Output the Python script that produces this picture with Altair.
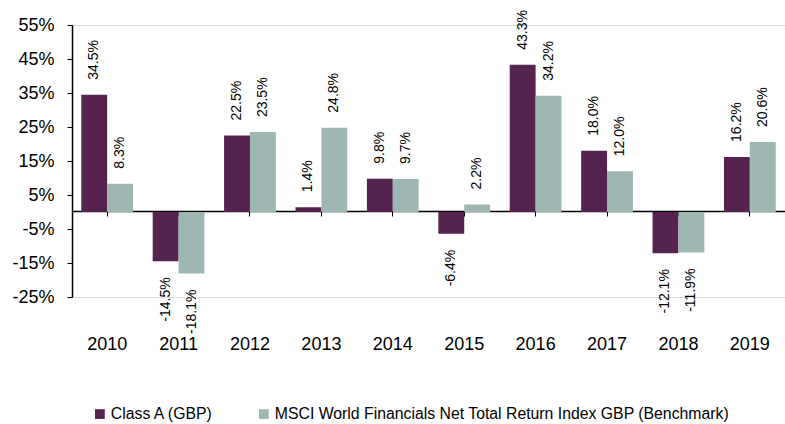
import altair as alt
import pandas as pd

years = ["2010", "2011", "2012", "2013", "2014", "2015", "2016", "2017", "2018", "2019"]
class_a = [34.5, -14.5, 22.5, 1.4, 9.8, -6.4, 43.3, 18.0, -12.1, 16.2]
benchmark = [8.3, -18.1, 23.5, 24.8, 9.7, 2.2, 34.2, 12.0, -11.9, 20.6]
series_names = ["Class A (GBP)", "MSCI World Financials Net Total Return Index GBP (Benchmark)"]
colors = ["#56224F", "#9EB7B3"]
y_ticks = [-25, -15, -5, 5, 15, 25, 35, 45, 55]

rows = []
for i, y in enumerate(years):
    for s, vals in zip(series_names, [class_a, benchmark]):
        rows.append({"year": y, "series": s, "value": vals[i],
                     "label": f"{vals[i]:.1f}%"})
df = pd.DataFrame(rows)

FONT = "Liberation Sans"

x_enc = alt.X("year:N", sort=years,
              scale=alt.Scale(paddingInner=0.275, paddingOuter=0.13),
              axis=alt.Axis(title=None, labelAngle=0, offset=-86, labelPadding=119,
                            tickSize=5, domainColor="#000000", tickColor="#000000",
                            domainWidth=1.5, labelFontSize=18, labelColor="#000000",
                            labelFont=FONT, labelOverlap=False))
xo_enc = alt.XOffset("series:N", sort=series_names, scale=alt.Scale(paddingInner=0, paddingOuter=0))
y_enc = alt.Y("value:Q", scale=alt.Scale(domain=[-25, 55], nice=False, zero=False),
              axis=alt.Axis(title=None, values=y_ticks, labelExpr="datum.value + '%'",
                            grid=False, tickSize=5, labelPadding=13, domainWidth=1.5,
                            domainColor="#000000", tickColor="#000000",
                            labelFontSize=18, labelColor="#000000", labelFont=FONT,
                            labelOverlap=False, labelBound=False, labelFlush=False))

base = alt.Chart(df)

bars = base.mark_bar().encode(
    x=x_enc,
    xOffset=xo_enc,
    y=y_enc,
    y2=alt.datum(0),
    color=alt.Color("series:N", sort=series_names,
                    scale=alt.Scale(domain=series_names, range=colors),
                    legend=alt.Legend(title=None, orient="none", direction="horizontal",
                                      legendX=20, legendY=381, symbolType="square",
                                      symbolSize=95, symbolStrokeWidth=0,
                                      labelFontSize=15.8, labelFont=FONT,
                                      labelColor="#000000", columnPadding=42,
                                      labelOffset=3, labelLimit=0)),
)

pos_labels = base.transform_filter("datum.value >= 0").mark_text(
    angle=270, align="left", baseline="middle", dx=15, fontSize=14, font=FONT, color="#000000"
).encode(x=x_enc, xOffset=xo_enc, y=y_enc, text="label:N")

neg_labels = base.transform_filter("datum.value < 0").mark_text(
    angle=270, align="right", baseline="middle", dx=-16, fontSize=14, font=FONT, color="#000000"
).encode(x=x_enc, xOffset=xo_enc, y=y_enc, text="label:N")

chart = alt.layer(bars, pos_labels, neg_labels).properties(
    width=713, height=272,
    autosize=alt.AutoSizeParams(type="none"),
    padding={"left": 72, "top": 25, "right": 0, "bottom": 127},
).configure_view(stroke=None).configure_axis(labelOverlap=False).configure(background="#ffffff")

chart.save("out.html", embed_options={"renderer": "svg", "actions": False})
